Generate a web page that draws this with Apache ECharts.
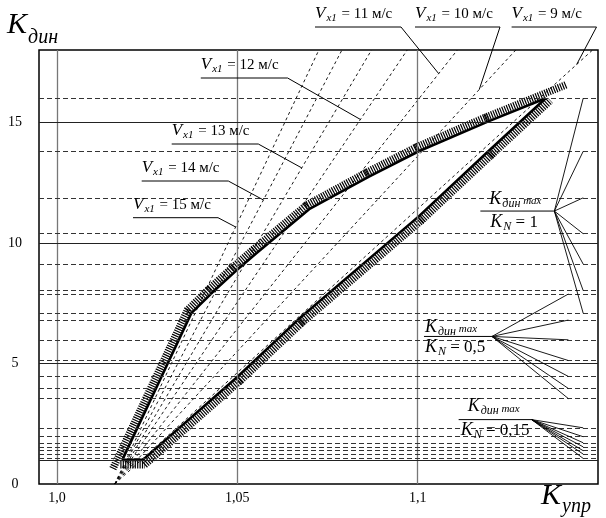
<!DOCTYPE html>
<html><head><meta charset="utf-8">
<script src="https://cdn.jsdelivr.net/npm/echarts@6/dist/echarts.min.js"></script>
<style>html,body{margin:0;padding:0;background:#fff}#c{width:606px;height:518px}</style>
</head><body><div id="c"></div>
<script>
// ---------------- data ----------------
const xTickValues = [1.0, 1.05, 1.1];
const xTickLabels = ['1,0', '1,05', '1,1'];
const yTickValues = [0, 5, 10, 15];
const yTickLabels = ['0', '5', '10', '15'];
const gridSolidX = [1.0, 1.05, 1.1];
const gridSolidY = [1, 5, 10, 15];

const speeds = [15, 14, 13, 12, 11, 10, 9];
const rayStartX = 1.016;
const rayStartY = 0;
const rayTopY = 18;
const rayTopX = [1.0726, 1.0790, 1.0872, 1.0971, 1.1110, 1.1272, 1.1485];
const rayLabelAnchorK = [10.66, 11.78, 13.11, 15.12, 17.02, 16.36, 17.4];

const upperX = [1.0181, 1.0373, 1.0431, 1.0496, 1.0551, 1.0699, 1.0865, 1.1003, 1.1196, 1.1355];
const upperY = [1.0, 7.1, 7.95, 8.84, 9.55, 11.4, 12.75, 13.8, 15.04, 16.0];
const lowerX = [1.0181, 1.0238, 1.0499, 1.0671, 1.1003, 1.1196, 1.1355];
const lowerY = [1.0, 1.0, 4.43, 6.85, 11.1, 13.8, 16.0];

const kNLabels = ['1', '0,5', '0,15'];
const kdinMaxN1 = [16.0, 13.8, 11.87, 10.38, 9.12, 8.02, 7.08];
const kdinMaxN05 = [7.88, 6.80, 5.98, 5.12, 4.46, 3.96, 3.54];
const kdinMaxN015 = [2.33, 1.96, 1.71, 1.54, 1.38, 1.24, 1.06];
const fanPivotX = [1.1379, 1.1206, 1.1316];
const fanPivotY = [11.32, 6.12, 2.67];
const fanEndX = [1.1459, 1.1418, 1.1459];

// ---------------- layout (pixels) ----------------
const SERIF = '"Liberation Serif", "Times New Roman", serif';
const labelUnderline = [[133, 218, 217.7], [141.7, 228.3, 181], [171.7, 258.3, 144], [200.8, 287.6, 78],
                        [315, 401, 27], [415, 500, 27], [511.6, 596.5, 27]];
// fraction layout relative to pivot: [barLeft, numLeft, numDy, denLeft, denDy]
const fracLayout = [[-74, -65, -12, -64, 11], [-68, -67, -9.5, -67, 10.7], [-73, -64, -13, -71, 11]];

const groups = [kdinMaxN1, kdinMaxN05, kdinMaxN015];
const allDashedY = [].concat(kdinMaxN1, kdinMaxN05, kdinMaxN015);

function zip(xs, ys) { return xs.map((x, i) => [x, ys[i]]); }
function hatchSegments(xs, ys, side) {
  const out = [];
  for (let i = 0; i < xs.length - 1; i++) out.push([xs[i], ys[i], xs[i + 1], ys[i + 1], side]);
  return out;
}
const upperSegs = hatchSegments(upperX, upperY, 1);
const lowerSegs = hatchSegments(lowerX, lowerY, -1);
const hatchData = upperSegs.concat(lowerSegs);
const nUpper = upperSegs.length;

const chart = echarts.init(document.getElementById('c'), null, { renderer: 'canvas' });

const series = [];
series.push({
  type: 'line', data: [[0.995, -5]], showSymbol: false, silent: true, z: 1,
  markLine: {
    silent: true, symbol: ['none', 'none'], label: { show: false }, animation: false,
    data: gridSolidX.map(v => ({ xAxis: v, lineStyle: { color: '#777', width: 1.3, type: 'solid' } }))
      .concat(gridSolidY.map(v => ({ yAxis: v, lineStyle: { color: '#222', width: 1.2, type: 'solid' } })))
      .concat(allDashedY.map(v => ({ yAxis: v, lineStyle: { color: '#333', width: 1, type: [5, 3] } })))
  }
});
speeds.forEach((s, i) => {
  series.push({
    type: 'line', name: 'V' + s, data: [[rayStartX, rayStartY], [rayTopX[i], rayTopY]],
    showSymbol: false, silent: true, z: 2, clip: true,
    lineStyle: { color: '#000', width: 0.9, type: [3, 3] }
  });
});
series.push({
  type: 'custom', data: hatchData, silent: true, z: 3, clip: true,
  encode: { x: [0, 2], y: [1, 3] },
  renderItem: function (params, api) {
    const p1 = api.coord([api.value(0), api.value(1)]);
    const p2 = api.coord([api.value(2), api.value(3)]);
    const side = api.value(4);
    let dx = p2[0] - p1[0], dy = p2[1] - p1[1];
    const L = Math.hypot(dx, dy) || 1; dx /= L; dy /= L;
    let nx, ny;
    if (side > 0) { nx = dy; ny = -dx; } else { nx = -dy; ny = dx; }
    const idx = params.dataIndex;
    let e0 = 2, e1 = 2;
    if (idx === 0) e0 = 12;
    if (idx === nUpper - 1) e1 = 24;
    const off = 4.8;
    return {
      type: 'line',
      shape: {
        x1: p1[0] - dx * e0 + nx * off, y1: p1[1] - dy * e0 + ny * off,
        x2: p2[0] + dx * e1 + nx * off, y2: p2[1] + dy * e1 + ny * off
      },
      style: { stroke: '#000', lineWidth: 7.5, lineDash: [1.2, 1.2], lineCap: 'butt' }
    };
  }
});
series.push({ type: 'line', data: zip(upperX, upperY), showSymbol: false, silent: true, z: 4,
  lineStyle: { color: '#000', width: 2.6 } });
series.push({ type: 'line', data: zip(lowerX, lowerY), showSymbol: false, silent: true, z: 4,
  lineStyle: { color: '#000', width: 2.6 } });
groups.forEach((vals, g) => {
  vals.forEach(v => {
    series.push({ type: 'line', data: [[fanPivotX[g], fanPivotY[g]], [fanEndX[g], v]], showSymbol: false,
      silent: true, z: 5, lineStyle: { color: '#000', width: 0.9 } });
  });
});

function nearestLabel(vals, labels, v) {
  let bi = 0, bd = Infinity;
  vals.forEach((t, i) => { const d = Math.abs(t - v); if (d < bd) { bd = d; bi = i; } });
  return labels[bi];
}

chart.setOption({
  animation: false,
  backgroundColor: '#fff',
  grid: { left: 39, right: 8, top: 50, bottom: 34, show: true, borderColor: '#000', borderWidth: 1.5, backgroundColor: 'transparent' },
  xAxis: {
    type: 'value', min: 0.995, max: 1.15,
    axisLine: { show: false }, axisTick: { show: false }, splitLine: { show: false },
    axisLabel: { customValues: xTickValues, margin: 7, fontFamily: SERIF, fontSize: 14, color: '#000',
      formatter: v => nearestLabel(xTickValues, xTickLabels, v) }
  },
  yAxis: {
    type: 'value', min: 0, max: 18,
    axisLine: { show: false }, axisTick: { show: false }, splitLine: { show: false },
    axisLabel: { customValues: yTickValues, margin: 24, align: 'center', fontFamily: SERIF, fontSize: 14, color: '#000',
      formatter: v => nearestLabel(yTickValues, yTickLabels, v) }
  },
  series: series
});

// ---------------- annotations ----------------
const mctx = document.createElement('canvas').getContext('2d');
function tw(font, t) { mctx.font = font; return mctx.measureText(t).width; }
function comp(x, y, parts) {
  const els = []; let cx = x;
  parts.forEach(p => {
    const font = (p[2] ? 'italic ' : '') + p[1] + 'px ' + SERIF;
    els.push({ type: 'text', x: cx, y: y + p[3], silent: true, z: 100,
      style: { text: p[0], font: font, fill: '#000', textAlign: 'left', textVerticalAlign: 'middle', align: 'left', verticalAlign: 'middle' } });
    cx += tw(font, p[0]) + (p[4] || 0);
  });
  return els;
}
function px(x, y) { return chart.convertToPixel({ xAxisIndex: 0, yAxisIndex: 0 }, [x, y]); }
function seg(x1, y1, x2, y2, w) {
  return { type: 'line', silent: true, z: 90, shape: { x1, y1, x2, y2 }, style: { stroke: '#000', lineWidth: w || 1 } };
}

let g = [];
g = g.concat(comp(7, 25, [['K', 30, true, 0, 1], ['дин', 20, true, 13]]));
g = g.concat(comp(541, 496, [['K', 30, true, 0, 1], ['упр', 20, true, 11]]));
speeds.forEach((s, i) => {
  const u = labelUnderline[i];
  const k = rayLabelAnchorK[i];
  const ax = rayStartX + (rayTopX[i] - rayStartX) * (k - rayStartY) / (rayTopY - rayStartY);
  const a = px(ax, k);
  g.push(seg(u[0], u[2], u[1], u[2], 1));
  g.push(seg(u[1], u[2], a[0], a[1], 1));
  g = g.concat(comp(u[0], u[2] - 13, [['V', 17, true, 0, 1], ['x1', 11, true, 4.5, 1], [' = ' + s + ' м/с', 15, false, 0]]));
});
kNLabels.forEach((lab, i) => {
  const p = px(fanPivotX[i], fanPivotY[i]);
  const L = fracLayout[i];
  g.push(seg(p[0] + L[0], p[1], p[0], p[1], 1));
  g = g.concat(comp(p[0] + L[1], p[1] + L[2], [['K', 18, true, 0, 1], ['дин', 12, true, 4.5], [' max', 11, true, 2.5]]));
  g = g.concat(comp(p[0] + L[3], p[1] + L[4], [['K', 18, true, 0, 1], ['N', 12, true, 4.5], [' = ' + lab, 17, false, 0]]));
});
chart.setOption({ graphic: { elements: g } });
</script>
</body></html>
